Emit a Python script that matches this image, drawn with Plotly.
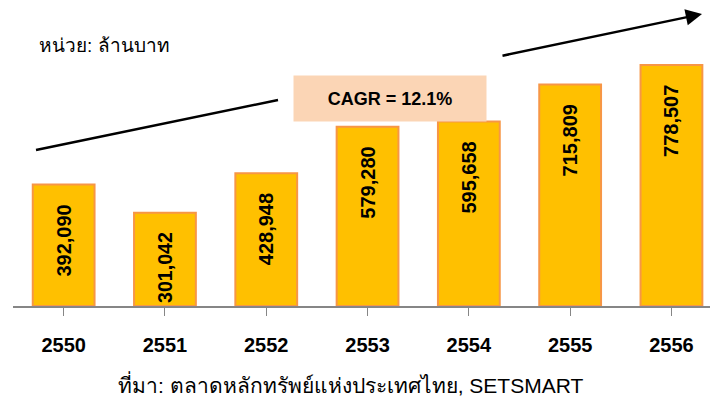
import plotly.graph_objects as go

years = ["2550", "2551", "2552", "2553", "2554", "2555", "2556"]
values = [392090, 301042, 428948, 579280, 595658, 715809, 778507]
unit_text = "หน่วย: ล้านบาท"
source_text = "ที่มา: ตลาดหลักทรัพย์แห่งประเทศไทย, SETSMART"
cagr_text = "CAGR = 12.1%"

# the page body adds an 8px margin, so work in figure pixels = screen pixels - 8
OFF = 8
W, H = 718 - OFF, 400 - OFF
axis_y = 306 - OFF
L, T = 13 - OFF, 20 - OFF
B = H - axis_y
plot_w = W - L
plot_h = H - T - B


def px(x):
    return (x - OFF - L) / plot_w


def py(y):
    return (axis_y - (y - OFF)) / plot_h


# labels sit a little below the bar top, like Excel's "inside end"
labels = [f"{v:,}" + "\u00a0" * 3 for v in values]

fig = go.Figure()
fig.add_trace(go.Bar(
    x=list(range(len(years))), y=values,
    text=labels,
    textposition="inside", insidetextanchor="end", textangle=-90,
    textfont=dict(family="Arial, Liberation Sans", size=20, color="black", weight="bold"),
    marker=dict(color="#FFC000", line=dict(color="#F79646", width=2)),
    width=0.61,
    cliponaxis=False,
))

# trend arrow, broken around the CAGR box
fig.add_shape(type="line", xref="paper", yref="paper",
              x0=px(36), y0=py(150), x1=px(278), y1=py(100),
              line=dict(color="black", width=2.5))
fig.add_annotation(xref="paper", yref="paper", x=px(702), y=py(14),
                   ax=501 - 702, ay=56 - 14, text="", showarrow=True,
                   arrowhead=2, arrowsize=1.3, arrowwidth=2.5, arrowcolor="black")

fig.add_annotation(xref="paper", yref="paper", x=px(390), y=py(74.5),
                   text=f"<b>{cagr_text}</b>", showarrow=False,
                   width=190, height=43, bgcolor="#FBD5B5", borderpad=1,
                   font=dict(family="Arial, Liberation Sans", size=18, color="black"))

fig.add_annotation(xref="paper", yref="paper", x=px(37), y=py(45),
                   xanchor="left", yanchor="middle", text=unit_text, showarrow=False,
                   font=dict(family="Arial, Liberation Sans", size=19, color="black"))

fig.add_annotation(xref="paper", yref="paper", x=px(350), y=py(384),
                   xanchor="center", yanchor="middle", text=source_text, showarrow=False,
                   font=dict(family="Arial, Liberation Sans", size=21, color="black"))

fig.update_layout(
    width=W, height=H,
    margin=dict(l=L, r=0, t=T, b=B, autoexpand=False),
    paper_bgcolor="white", plot_bgcolor="white",
    showlegend=False,
    xaxis=dict(
        tickmode="array", tickvals=list(range(len(years))), ticktext=years,
        range=[-0.5, -0.5 + plot_w / 101.3],
        tickson="boundaries", ticks="outside", ticklen=8, tickcolor="#868686",
        showline=True, linecolor="#868686", linewidth=1.5,
        showgrid=False, zeroline=False, automargin=False,
        ticklabelstandoff=12,
        tickfont=dict(family="Arial, Liberation Sans", size=20, color="black", weight="bold"),
    ),
    yaxis=dict(range=[0, plot_h / (241 / 778507)], visible=False, showgrid=False,
               automargin=False),
)

fig.write_html("out.html")
